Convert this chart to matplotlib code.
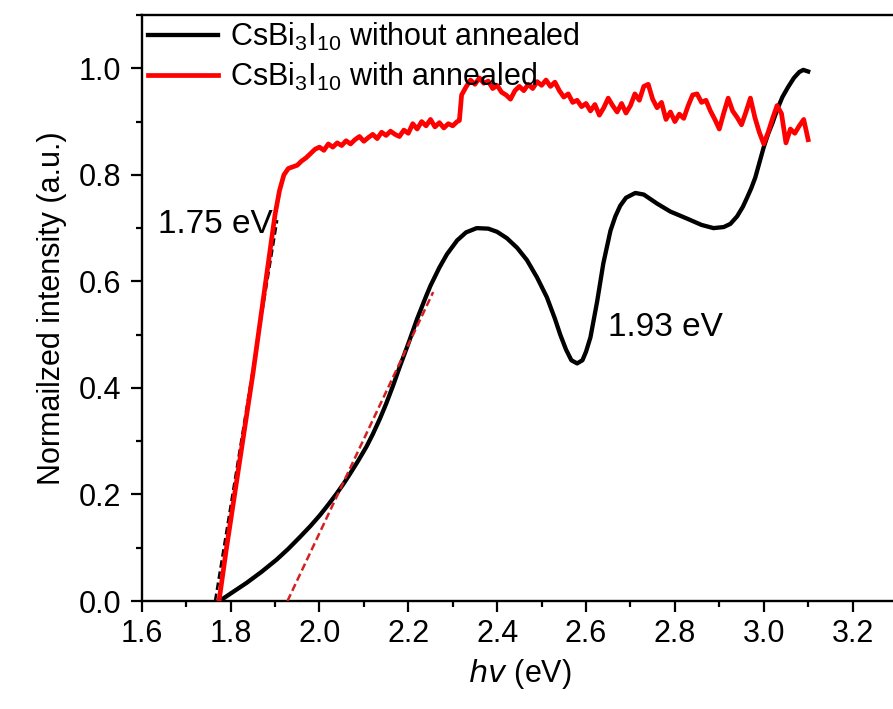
import matplotlib
matplotlib.use("Agg")
import matplotlib.pyplot as plt
from matplotlib.ticker import MultipleLocator
import numpy as np

plt.rcParams['font.family'] = ['Liberation Sans', 'DejaVu Sans']
plt.rcParams['mathtext.default'] = 'regular'

# without annealed (black)
x_raw = [1.775, 1.80, 1.836, 1.87, 1.904, 1.93, 1.956, 1.98, 2.001, 2.02, 2.039, 2.055,
         2.069, 2.087, 2.106, 2.12, 2.136, 2.15, 2.166, 2.18, 2.20, 2.22, 2.24, 2.25,
         2.27, 2.287, 2.31, 2.33, 2.354, 2.38, 2.40, 2.422, 2.445, 2.467, 2.49, 2.512,
         2.53, 2.542, 2.555, 2.567, 2.58, 2.592, 2.60, 2.61, 2.625, 2.639, 2.655, 2.666,
         2.677, 2.69, 2.711, 2.73, 2.76, 2.79, 2.827, 2.86, 2.887, 2.91, 2.925, 2.94,
         2.953, 2.963, 2.972, 2.981, 2.99, 3.00, 3.01, 3.02, 3.03, 3.042, 3.055, 3.068,
         3.08, 3.089, 3.10]
y_raw = [0.000, 0.014, 0.034, 0.055, 0.078, 0.098, 0.120, 0.141, 0.161, 0.181, 0.202, 0.221,
         0.239, 0.263, 0.290, 0.313, 0.342, 0.370, 0.405, 0.438, 0.483, 0.530, 0.572, 0.592,
         0.626, 0.651, 0.677, 0.692, 0.700, 0.699, 0.693, 0.681, 0.663, 0.640, 0.607, 0.570,
         0.530, 0.500, 0.472, 0.452, 0.446, 0.452, 0.468, 0.495, 0.562, 0.634, 0.695, 0.722,
         0.742, 0.757, 0.766, 0.763, 0.746, 0.731, 0.718, 0.706, 0.700, 0.702, 0.708, 0.722,
         0.740, 0.758, 0.775, 0.795, 0.822, 0.852, 0.877, 0.898, 0.922, 0.946, 0.965, 0.982,
         0.993, 0.997, 0.994]

# with annealed (red)
x_ann = [1.774, 1.79, 1.81, 1.83, 1.85, 1.87, 1.89, 1.90, 1.91,
         1.92, 1.93, 1.94, 1.95, 1.96, 1.97, 1.98, 1.99, 2.00, 2.01, 2.02, 2.03, 2.04, 2.05,
         2.06, 2.07, 2.08, 2.09, 2.10, 2.11, 2.12, 2.13, 2.14, 2.15, 2.16, 2.17, 2.18, 2.19,
         2.20, 2.21, 2.22, 2.23, 2.24, 2.25, 2.26, 2.27, 2.28, 2.29, 2.30, 2.31, 2.315, 2.32,
         2.33, 2.34, 2.35, 2.36, 2.37, 2.38, 2.39, 2.40, 2.41, 2.42, 2.43, 2.44, 2.45, 2.46,
         2.47, 2.48, 2.49, 2.50, 2.51, 2.52, 2.53, 2.54, 2.55, 2.56, 2.57, 2.58, 2.59, 2.60,
         2.61, 2.62, 2.63, 2.64, 2.65, 2.66, 2.67, 2.68, 2.69, 2.70, 2.71, 2.72, 2.73, 2.74,
         2.75, 2.76, 2.77, 2.78, 2.79, 2.80, 2.81, 2.82, 2.83, 2.84, 2.85, 2.86, 2.87, 2.88,
         2.89, 2.90, 2.91, 2.92, 2.93, 2.94, 2.95, 2.96, 2.97, 2.98, 2.99, 3.00, 3.01, 3.02,
         3.03, 3.04, 3.05, 3.06, 3.07, 3.08, 3.09, 3.10]
y_ann = [0.0, 0.095, 0.205, 0.315, 0.425, 0.545, 0.665, 0.725, 0.77,
         0.800, 0.812, 0.815, 0.818, 0.826, 0.832, 0.840, 0.848, 0.852, 0.846, 0.858, 0.852, 0.860, 0.855,
         0.864, 0.858, 0.866, 0.872, 0.863, 0.870, 0.876, 0.868, 0.880, 0.874, 0.882, 0.876, 0.872, 0.884,
         0.878, 0.896, 0.886, 0.900, 0.892, 0.904, 0.890, 0.898, 0.888, 0.896, 0.892, 0.900, 0.902, 0.950,
         0.965, 0.978, 0.970, 0.982, 0.972, 0.976, 0.962, 0.968, 0.955, 0.950, 0.942, 0.958, 0.966, 0.958,
         0.970, 0.962, 0.975, 0.968, 0.978, 0.966, 0.974, 0.958, 0.946, 0.952, 0.936, 0.940, 0.928, 0.934,
         0.920, 0.932, 0.912, 0.926, 0.944, 0.930, 0.918, 0.934, 0.916, 0.930, 0.952, 0.940, 0.966, 0.970,
         0.942, 0.926, 0.936, 0.904, 0.918, 0.900, 0.914, 0.906, 0.930, 0.950, 0.952, 0.936, 0.940, 0.920,
         0.904, 0.886, 0.916, 0.944, 0.920, 0.908, 0.894, 0.918, 0.944, 0.908, 0.880, 0.858, 0.880, 0.906,
         0.930, 0.915, 0.860, 0.886, 0.878, 0.892, 0.904, 0.866]

# tangent lines (x0, y0, x1, y1)
fit_ann = [1.765, 0.0, 1.905, 0.715]
fit_raw = [1.928, 0.0, 2.256, 0.58]

labels = ['CsBi$_{3}$I$_{10}$ without annealed', 'CsBi$_{3}$I$_{10}$ with annealed']

fig = plt.figure(figsize=(8.93, 7.09), dpi=100)
ax = fig.add_axes([0.1587, 0.1523, 0.8458, 0.8265])

ax.plot(x_raw, y_raw, color='black', lw=3.1, label=labels[0], zorder=3,
        solid_joinstyle='round')
ax.plot(x_ann, y_ann, color='red', lw=3.4, label=labels[1], zorder=3,
        solid_joinstyle='round')
ax.plot(fit_ann[0::2], fit_ann[1::2], color='black', ls=(0, (3, 1.5)), lw=1.8, zorder=2)
ax.plot(fit_raw[0::2], fit_raw[1::2], color='#d42020', ls=(0, (3, 1.5)), lw=1.8, zorder=4)

ax.text(1.637, 0.69, '1.75 eV', fontsize=24)
ax.text(2.65, 0.497, '1.93 eV', fontsize=24)

ax.set_xlim(1.6, 3.3)
ax.set_ylim(0, 1.1)
ax.set_xticks(np.arange(1.6, 3.21, 0.2))
ax.xaxis.set_minor_locator(MultipleLocator(0.1))
ax.yaxis.set_major_locator(MultipleLocator(0.2))
ax.yaxis.set_minor_locator(MultipleLocator(0.1))
ax.xaxis.set_major_formatter(plt.FuncFormatter(lambda v, p: '%.1f' % v))
ax.yaxis.set_major_formatter(plt.FuncFormatter(lambda v, p: '%.1f' % v))
ax.tick_params(which='major', direction='out', length=8, width=1.6, labelsize=22)
ax.tick_params(axis='y', which='major', pad=7)
ax.tick_params(axis='x', which='major', pad=5)
ax.tick_params(which='minor', direction='out', length=4.5, width=1.6)
ax.tick_params(top=False, right=False, which='both')
for s in ax.spines.values():
    s.set_linewidth(1.7)

ax.set_xlabel('$\\it{hv}$ (eV)', fontsize=22, labelpad=6)
ax.set_ylabel('Normailzed intensity (a.u.)', fontsize=22, labelpad=8)

ax.legend(loc='upper left', frameon=False, fontsize=22, handlelength=2.3,
          handletextpad=0.39, borderaxespad=0.2, borderpad=0.0, labelspacing=0.25)

fig.savefig('out.png', dpi=100)
